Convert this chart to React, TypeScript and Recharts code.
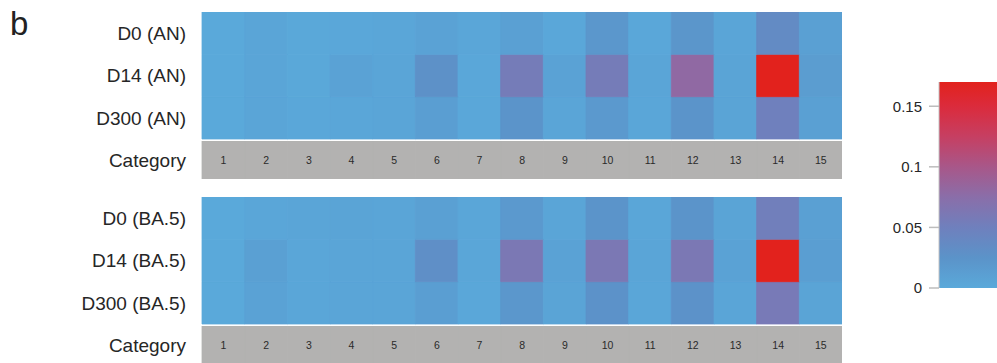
import React from 'react';
import { BarChart, Bar, XAxis, YAxis, Cell, LabelList } from 'recharts';

// Column categories shared by both panels
const CATEGORIES = ['1', '2', '3', '4', '5', '6', '7', '8', '9', '10', '11', '12', '13', '14', '15'];

// Row labels (top to bottom)
const ROWS_AN = ['D0 (AN)', 'D14 (AN)', 'D300 (AN)'];
const ROWS_BA5 = ['D0 (BA.5)', 'D14 (BA.5)', 'D300 (BA.5)'];

// Frequencies per category, AN cohort
const AN_D0 = [0, 0.004, 0.001, 0.002, 0.003, 0.008, 0.003, 0.01, 0.002, 0.02, 0.002, 0.022, 0.004, 0.035, 0.01];
const AN_D14 = [0, 0.005, 0.001, 0.008, 0.004, 0.028, 0.002, 0.056, 0.008, 0.056, 0.005, 0.08, 0.006, 0.17, 0.014];
const AN_D300 = [0, 0.005, 0.002, 0.003, 0.004, 0.012, 0.002, 0.024, 0.005, 0.018, 0.003, 0.024, 0.006, 0.05, 0.01];

// Frequencies per category, BA.5 cohort
const BA5_D0 = [0, 0.003, 0.005, 0.006, 0.004, 0.01, 0.003, 0.018, 0.004, 0.024, 0.003, 0.024, 0.006, 0.052, 0.01];
const BA5_D14 = [0, 0.01, 0.003, 0.004, 0.005, 0.03, 0.003, 0.061, 0.008, 0.061, 0.004, 0.061, 0.008, 0.17, 0.012];
const BA5_D300 = [0, 0.008, 0.003, 0.004, 0.004, 0.012, 0.002, 0.02, 0.006, 0.026, 0.003, 0.026, 0.005, 0.058, 0.006];

// Colour scale
const SCALE_MAX = 0.17;
const SCALE_TICKS = [0, 0.05, 0.1, 0.15];
const COLOR_STOPS: [number, string][] = [
  [0, '#5aa9da'],
  [0.025, '#5b93c9'],
  [0.05, '#6f80bd'],
  [0.075, '#8a6ea9'],
  [0.1, '#a85789'],
  [0.125, '#c63f62'],
  [0.15, '#db2b3c'],
  [0.17, '#e2221d'],
];

const FONT = '"Liberation Sans", Arial, Helvetica, sans-serif';
const BAND_FILL = '#b3b2b1';

const hexToRgb = (h: string) => [1, 3, 5].map((i) => parseInt(h.slice(i, i + 2), 16));

// Linear interpolation between the colour stops
function colorFor(v: number): string {
  const t = Math.max(0, Math.min(SCALE_MAX, v));
  for (let i = 1; i < COLOR_STOPS.length; i++) {
    const [v1, c1] = COLOR_STOPS[i];
    const [v0, c0] = COLOR_STOPS[i - 1];
    if (t <= v1) {
      const f = (t - v0) / (v1 - v0);
      const a = hexToRgb(c0);
      const b = hexToRgb(c1);
      const m = a.map((x, k) => Math.round(x + (b[k] - x) * f));
      return `rgb(${m[0]},${m[1]},${m[2]})`;
    }
  }
  return COLOR_STOPS[COLOR_STOPS.length - 1][1];
}

// Stack layout (in row units): category band, thin gap, then three heatmap rows
const BAND = 0.898;
const GAP = 0.047;
const TOTAL = BAND + GAP + 3;

function Panel({ top, labels, d0, d14, d300 }: { top: number; labels: string[]; d0: number[]; d14: number[]; d300: number[] }) {
  const data = CATEGORIES.map((c) => ({ category: c, band: BAND, gap: GAP, r300: 1, r14: 1, r0: 1 }));
  const tickPos = [BAND / 2, BAND + GAP + 0.5, BAND + GAP + 1.5, BAND + GAP + 2.5];
  const tickText = ['Category', labels[2], labels[1], labels[0]];
  const cells = (vals: number[]) =>
    vals.map((v, i) => {
      const c = colorFor(v);
      return <Cell key={i} fill={c} stroke={c} strokeWidth={0.8} />;
    });
  return (
    <div style={{ position: 'absolute', left: 0, top }}>
      <BarChart width={842} height={167} data={data} margin={{ top: 0, right: 0, bottom: 0, left: 0 }} barCategoryGap={0} barGap={0}>
        <XAxis dataKey="category" hide />
        <YAxis
          type="number"
          domain={[0, TOTAL]}
          allowDataOverflow
          ticks={tickPos}
          interval={0}
          width={202}
          axisLine={false}
          tickLine={false}
          tickSize={0}
          tickMargin={16}
          tickFormatter={(v: number) => tickText[tickPos.findIndex((p) => Math.abs(p - v) < 1e-6)] ?? ''}
          tick={{ fill: '#262626', fontSize: 19, fontFamily: FONT }}
        />
        <Bar dataKey="band" stackId="s" fill={BAND_FILL} stroke={BAND_FILL} strokeWidth={0.8} isAnimationActive={false}>
          <LabelList dataKey="category" position="center" fill="#2a2a2a" fontSize={10.5} fontFamily={FONT} stroke="none" />
        </Bar>
        <Bar dataKey="gap" stackId="s" fill="#ffffff" isAnimationActive={false} />
        <Bar dataKey="r300" stackId="s" isAnimationActive={false}>
          {cells(d300)}
        </Bar>
        <Bar dataKey="r14" stackId="s" isAnimationActive={false}>
          {cells(d14)}
        </Bar>
        <Bar dataKey="r0" stackId="s" isAnimationActive={false}>
          {cells(d0)}
        </Bar>
      </BarChart>
    </div>
  );
}

function ColorBar() {
  const data = [{ name: 'scale', value: SCALE_MAX }];
  return (
    <div style={{ position: 'absolute', left: 880, top: 72 }}>
      <BarChart width={160} height={226} data={data} margin={{ top: 10, right: 0, bottom: 10, left: 0 }} barCategoryGap={0}>
        <defs>
          <linearGradient id="scaleGradient" x1="0" y1="1" x2="0" y2="0">
            {COLOR_STOPS.map(([v, c]) => (
              <stop key={v} offset={`${(v / SCALE_MAX) * 100}%`} stopColor={c} />
            ))}
          </linearGradient>
        </defs>
        <XAxis dataKey="name" hide />
        <YAxis
          type="number"
          domain={[0, SCALE_MAX]}
          allowDataOverflow
          ticks={SCALE_TICKS}
          interval={0}
          width={59}
          axisLine={{ stroke: '#c4c4c4' }}
          tickLine={{ stroke: '#bdbdbd', strokeWidth: 1.5 }}
          tickSize={10}
          tickMargin={7}
          tick={{ fill: '#262626', fontSize: 15, fontFamily: FONT }}
        />
        <Bar dataKey="value" fill="url(#scaleGradient)" isAnimationActive={false} />
      </BarChart>
    </div>
  );
}

export default function App() {
  return (
    <div style={{ position: 'fixed', left: 0, top: 0, width: 997, height: 363, overflow: 'hidden', background: '#fff', fontFamily: FONT }}>
      <div style={{ position: 'absolute', left: 10, top: 7, fontSize: 33, lineHeight: '33px', color: '#222' }}>b</div>
      <Panel top={12} labels={ROWS_AN} d0={AN_D0} d14={AN_D14} d300={AN_D300} />
      <Panel top={197} labels={ROWS_BA5} d0={BA5_D0} d14={BA5_D14} d300={BA5_D300} />
      <ColorBar />
    </div>
  );
}
